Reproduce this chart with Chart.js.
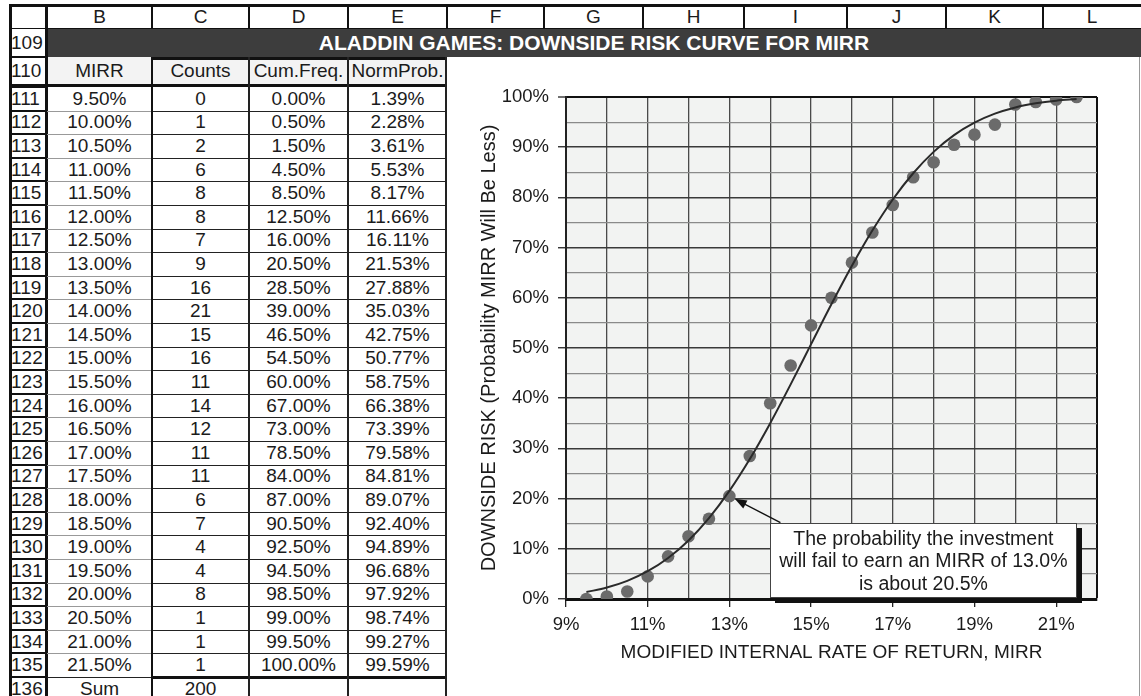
<!DOCTYPE html>
<html><head><meta charset="utf-8">
<script src="https://cdn.jsdelivr.net/npm/chart.js@4.4.1/dist/chart.umd.min.js"></script>
<style>
html,body{margin:0;padding:0;background:#fff;width:1141px;height:696px;overflow:hidden;font-family:"Liberation Sans",Arial,sans-serif;color:#1b1b1b;}
#sheet{position:absolute;left:0;top:0;width:1141px;height:696px;}
.c{position:absolute;display:flex;align-items:center;justify-content:center;font-size:19px;white-space:nowrap;box-sizing:border-box;}
.rh{justify-content:flex-start;padding-left:1px;}
.ln{position:absolute;}
#wrap{position:absolute;left:447px;top:57px;width:692px;height:639px;background:#fff;}
#note{position:absolute;background:#fff;border:1px solid #444;box-shadow:5px 5px 0 #111;display:flex;flex-direction:column;justify-content:center;text-align:center;font-size:19.5px;line-height:22.5px;box-sizing:border-box;white-space:nowrap;}
</style></head>
<body>
<div id="sheet"></div>
<div id="wrap"><canvas id="c" width="692" height="639"></canvas><div id="note"></div></div>
<script>
// ---- data ----
const mirr = [9.5,10,10.5,11,11.5,12,12.5,13,13.5,14,14.5,15,15.5,16,16.5,17,17.5,18,18.5,19,19.5,20,20.5,21,21.5];
const counts = [0,1,2,6,8,8,7,9,16,21,15,16,11,14,12,11,11,6,7,4,4,8,1,1,1];
const cumFreq = [0,0.5,1.5,4.5,8.5,12.5,16,20.5,28.5,39,46.5,54.5,60,67,73,78.5,84,87,90.5,92.5,94.5,98.5,99,99.5,100];
const normProb = [1.39,2.28,3.61,5.53,8.17,11.66,16.11,21.53,27.88,35.03,42.75,50.77,58.75,66.38,73.39,79.58,84.81,89.07,92.40,94.89,96.68,97.92,98.74,99.27,99.59];
const colLetters = ['B','C','D','E','F','G','H','I','J','K','L'];
const headers = ['MIRR','Counts','Cum.Freq.','NormProb.'];
const firstRow = 109;
const titleText = 'ALADDIN GAMES: DOWNSIDE RISK CURVE FOR MIRR';
const xTitle = 'MODIFIED INTERNAL RATE OF RETURN, MIRR';
const yTitle = 'DOWNSIDE RISK (Probability MIRR Will Be Less)';
const noteLines = ['The probability the investment','will fail to earn an MIRR of 13.0%','is about 20.5%'];
const noteTarget = [13, 20.5];

// ---- layout (sheet geometry) ----
const colX=[10,47,152,249,348,447,544,643,744,847,946,1043,1141];
const dataTop=87, pitch=23.6;
const sheet=document.getElementById('sheet');
function rect(x,y,w,h,color){const d=document.createElement('div');d.className='ln';d.style.cssText=`left:${x}px;top:${y}px;width:${w}px;height:${h}px;background:${color}`;sheet.appendChild(d);return d;}
function cell(x,y,w,h,txt,cls,extra){const d=document.createElement('div');d.className='c'+(cls?' '+cls:'');d.style.cssText=`left:${x}px;top:${y}px;width:${w}px;height:${h}px;`+(extra||'');d.textContent=txt;sheet.appendChild(d);return d;}
function rowTop(i){return dataTop+i*pitch;}
const pct=v=>v.toFixed(2)+'%';

// backgrounds
rect(47,29,1094,28,'#3d3d3d');
rect(47,57,400,28,'#f3f3f3');

// header letters
colLetters.forEach((L,j)=>cell(colX[j+1],5,colX[j+2]-colX[j+1],24,L));
// title
cell(47,29,1094,28,titleText,'', 'color:#fff;font-weight:bold;font-size:21px;');
// row numbers
cell(10,29,37,28,String(firstRow),'rh');
cell(10,57,37,28,String(firstRow+1),'rh');
for(let i=0;i<=mirr.length;i++){cell(10,rowTop(i),37,pitch,String(firstRow+2+i),'rh');}
// headers row 110
headers.forEach((h,j)=>cell(colX[j+1],57,colX[j+2]-colX[j+1],28,h));
// data rows
mirr.forEach((m,i)=>{
  const y=rowTop(i);
  cell(colX[1],y,colX[2]-colX[1],pitch,pct(m));
  cell(colX[2],y,colX[3]-colX[2],pitch,String(counts[i]));
  cell(colX[3],y,colX[4]-colX[3],pitch,pct(cumFreq[i]));
  cell(colX[4],y,colX[5]-colX[4],pitch,pct(normProb[i]));
});
const sumY=rowTop(mirr.length);
cell(colX[1],sumY,colX[2]-colX[1],pitch,'Sum');
cell(colX[2],sumY,colX[3]-colX[2],pitch,String(counts.reduce((a,b)=>a+b,0)));

// grid lines
rect(10,4,1131,3,'#111');
rect(10,28,1131,1,'#111');
colX.slice(0,12).forEach(x=>rect(x-1,4,2,25,'#111'));
rect(9,4,3,692,'#111');
rect(45,4,3,692,'#111');
[57,85].forEach(y=>rect(10,y-1,37,2,'#111'));
for(let i=0;i<=mirr.length;i++){rect(10,rowTop(i)-1,37,2,'#111');}
rect(152,57,295,3,'#111');
rect(47,84,400,3,'#111');
for(let i=1;i<mirr.length;i++){const y=Math.round(rowTop(i));rect(47,y,105,1,'#999');rect(152,y,295,1,'#222');}
rect(47,Math.round(sumY),105,1,'#222');
rect(152,Math.round(sumY)-1,295,3,'#111');
rect(151,57,2,639,'#111');
rect(248,57,1.5,639,'#222');
rect(347,57,1.5,639,'#222');
rect(445,57,2,639,'#222');
rect(1139,57,1,639,'#999');

// ---- chart ----
Chart.defaults.font.family='"Liberation Sans", Arial, sans-serif';
Chart.defaults.color='#1b1b1b';
const bgPlugin={id:'bg',beforeDraw(chart){const {ctx,chartArea:a}=chart;ctx.save();ctx.fillStyle='#f2f3f2';ctx.fillRect(a.left,a.top,a.right-a.left,a.bottom-a.top);ctx.restore();}};
const noteBox={x0:14.0,x1:21.5,yTop:15.2,yBot:0.1,fromX:14.25,fromY:15.2};
const notePlugin={id:'note',afterDatasetsDraw(chart){
  const xs=chart.scales.x, ys=chart.scales.y, ctx=chart.ctx;
  const tx=xs.getPixelForValue(noteTarget[0]), ty=ys.getPixelForValue(noteTarget[1]);
  const sx=xs.getPixelForValue(noteBox.fromX), sy=ys.getPixelForValue(noteBox.fromY);
  const dx=sx-tx, dy=sy-ty, len=Math.hypot(dx,dy), ux=dx/len, uy=dy/len;
  const px=tx+ux*6, py=ty+uy*6;
  ctx.save();ctx.strokeStyle='#111';ctx.lineWidth=1.3;ctx.beginPath();ctx.moveTo(sx,sy);ctx.lineTo(px+ux*8,py+uy*8);ctx.stroke();
  ctx.fillStyle='#111';ctx.beginPath();ctx.moveTo(px,py);ctx.lineTo(px+ux*12-uy*4.5,py+uy*12+ux*4.5);ctx.lineTo(px+ux*12+uy*4.5,py+uy*12-ux*4.5);ctx.closePath();ctx.fill();ctx.restore();
  const n=document.getElementById('note');
  const l=xs.getPixelForValue(noteBox.x0), r=xs.getPixelForValue(noteBox.x1), t=ys.getPixelForValue(noteBox.yTop), b=ys.getPixelForValue(noteBox.yBot);
  n.style.left=l+'px';n.style.top=t+'px';n.style.width=(r-l)+'px';n.style.height=(b-t)+'px';
  n.innerHTML='';noteLines.forEach(s=>{const d=document.createElement('div');d.textContent=s;n.appendChild(d);});
}};
new Chart(document.getElementById('c').getContext('2d'),{
  type:'scatter',
  data:{datasets:[
    {label:'NormProb.',data:mirr.map((m,i)=>({x:m,y:normProb[i]})),showLine:true,pointRadius:0,borderColor:'#2a2a2a',borderWidth:2,cubicInterpolationMode:'monotone',order:0},
    {label:'Cum.Freq.',data:mirr.map((m,i)=>({x:m,y:cumFreq[i]})),showLine:false,pointRadius:6.3,pointBackgroundColor:'#6b6b6b',pointBorderWidth:0,order:1}
  ]},
  options:{
    responsive:false,animation:false,devicePixelRatio:1,
    layout:{padding:{left:0,top:40,right:42,bottom:0}},
    plugins:{legend:{display:false},tooltip:{enabled:false}},
    scales:{
      x:{type:'linear',min:9,max:22,afterFit(s){s.height=97;},
        ticks:{stepSize:1,padding:7,autoSkip:false,maxRotation:0,font:{size:18.5},callback:v=>(v%2===1)?v+'%':''},
        grid:{color:c=>c.tick.value===22?'#111':'#4a4a4a',lineWidth:c=>c.tick.value===22?2:1.3,tickLength:8,tickColor:c=>(c.tick.value%2===1)?'#222':'rgba(0,0,0,0)',tickWidth:1.3},
        border:{color:'#111',width:3},
        title:{display:true,text:xTitle,font:{size:19},color:'#1b1b1b',padding:{top:0,bottom:32}}},
      y:{min:0,max:100,afterFit(s){s.width=119;},
        ticks:{stepSize:5,padding:9,autoSkip:false,font:{size:18.5},callback:v=>(v%10===0)?v+'%':''},
        grid:{color:c=>c.tick.value===100?'#111':(c.tick.value%10===0?'#3a3a3a':'#8a8a8a'),lineWidth:c=>c.tick.value===100?2:(c.tick.value%10===0?1.5:1.2),tickLength:8,tickColor:c=>(c.tick.value%10===0)?'#222':'rgba(0,0,0,0)',tickWidth:1.3},
        border:{color:'#222',width:2},
        title:{display:true,text:yTitle,font:{size:20},color:'#1b1b1b',padding:{top:30,bottom:0}}}
    }
  },
  plugins:[bgPlugin,notePlugin]
});
</script>
</body></html>
